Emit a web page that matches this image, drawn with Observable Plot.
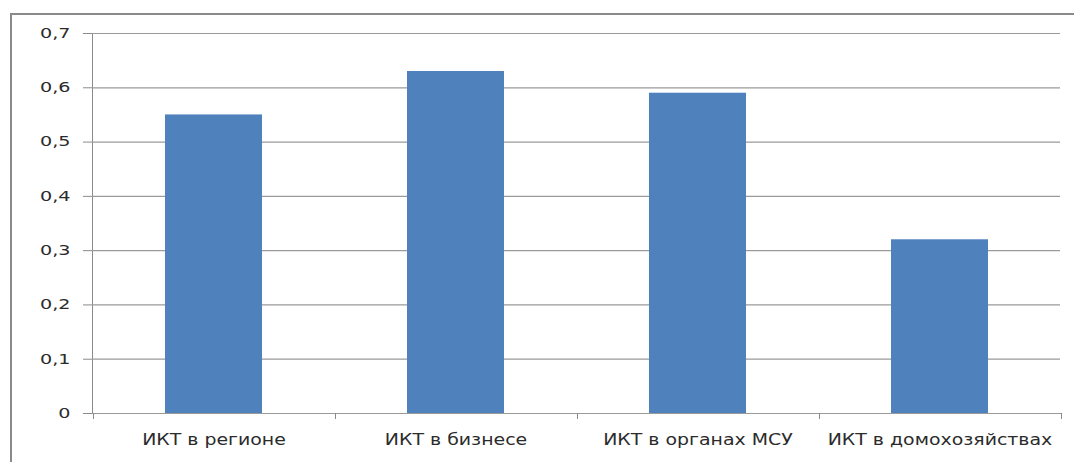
<!DOCTYPE html>
<html><head><meta charset="utf-8">
<script src="https://cdn.jsdelivr.net/npm/d3@7"></script>
<script src="https://cdn.jsdelivr.net/npm/@observablehq/plot@0.6"></script>
<style>
html,body{margin:0;padding:0;background:#fff;overflow:hidden;}
#wrap{position:relative;width:1074px;height:462px;overflow:hidden;}
#frame{position:absolute;left:10px;top:13px;width:1100px;height:500px;border:2px solid #8a8a8a;box-sizing:border-box;pointer-events:none;}
#wrap svg text{fill:#2b2b2b;}
</style></head><body>
<div id="wrap"><div id="frame"></div></div>
<script>
const categories = ["ИКТ в регионе", "ИКТ в бизнесе", "ИКТ в органах МСУ", "ИКТ в домохозяйствах"];
const values = [0.55, 0.63, 0.59, 0.32];
const yTicks = [0, 0.1, 0.2, 0.3, 0.4, 0.5, 0.6, 0.7];
const yTickLabels = ["0", "0,1", "0,2", "0,3", "0,4", "0,5", "0,6", "0,7"];

const data = categories.map((c, i) => ({category: c, value: values[i]}));

const chart = Plot.plot({
  width: 1074, height: 462,
  marginLeft: 92, marginRight: 14, marginTop: 33, marginBottom: 49,
  style: {fontFamily: "DejaVu Sans", fontSize: "14px", color: "#8a8a8a", background: "transparent", overflow: "visible"},
  x: {domain: categories, paddingInner: 0.6, paddingOuter: 0.3, label: null, tickSize: 0, tickPadding: 20, line: true},
  y: {domain: [0, 0.7], ticks: yTicks, tickFormat: d => yTickLabels[yTicks.findIndex(t => Math.abs(t - d) < 1e-9)], tickSize: 9, tickPadding: 13, label: null, line: true},
  marks: [
    Plot.ruleY(yTicks, {stroke: "#9a9a9a", strokeWidth: 1.2}),
    Plot.barY(data, {x: "category", y: "value", fill: "#4F81BD"})
  ]
});
document.getElementById("wrap").appendChild(chart);

// category boundary ticks on the x axis, derived from the plot's own scales
const sx = chart.scale("x");
const sy = chart.scale("y");
const step = sx.step, bw = sx.bandwidth;
const bounds = categories.map(c => sx.apply(c) - (step - bw) / 2);
bounds.push(bounds[bounds.length - 1] + step);
const y0 = sy.apply(0);
const g = d3.select(chart).append("g").attr("stroke", "#8a8a8a").attr("stroke-width", 1);
g.selectAll("line").data(bounds).join("line")
  .attr("x1", d => Math.round(d) + 0.5).attr("x2", d => Math.round(d) + 0.5)
  .attr("y1", y0).attr("y2", y0 + 6);

// font sizes and horizontal stretch of the glyphs (reference text is widened)
const xLabelSet = new Set(categories), yLabelSet = new Set(yTickLabels);
chart.querySelectorAll("text").forEach(t => {
  const s = t.textContent;
  let size, stretch;
  if (xLabelSet.has(s)) { size = 15.5; stretch = 1.22; }
  else if (yLabelSet.has(s)) { size = 13.5; stretch = 1.42; }
  else return;
  t.style.fontSize = size + "px";
  const L = t.getComputedTextLength();
  t.setAttribute("textLength", L * stretch);
  t.setAttribute("lengthAdjust", "spacingAndGlyphs");
});
</script>
</body></html>
